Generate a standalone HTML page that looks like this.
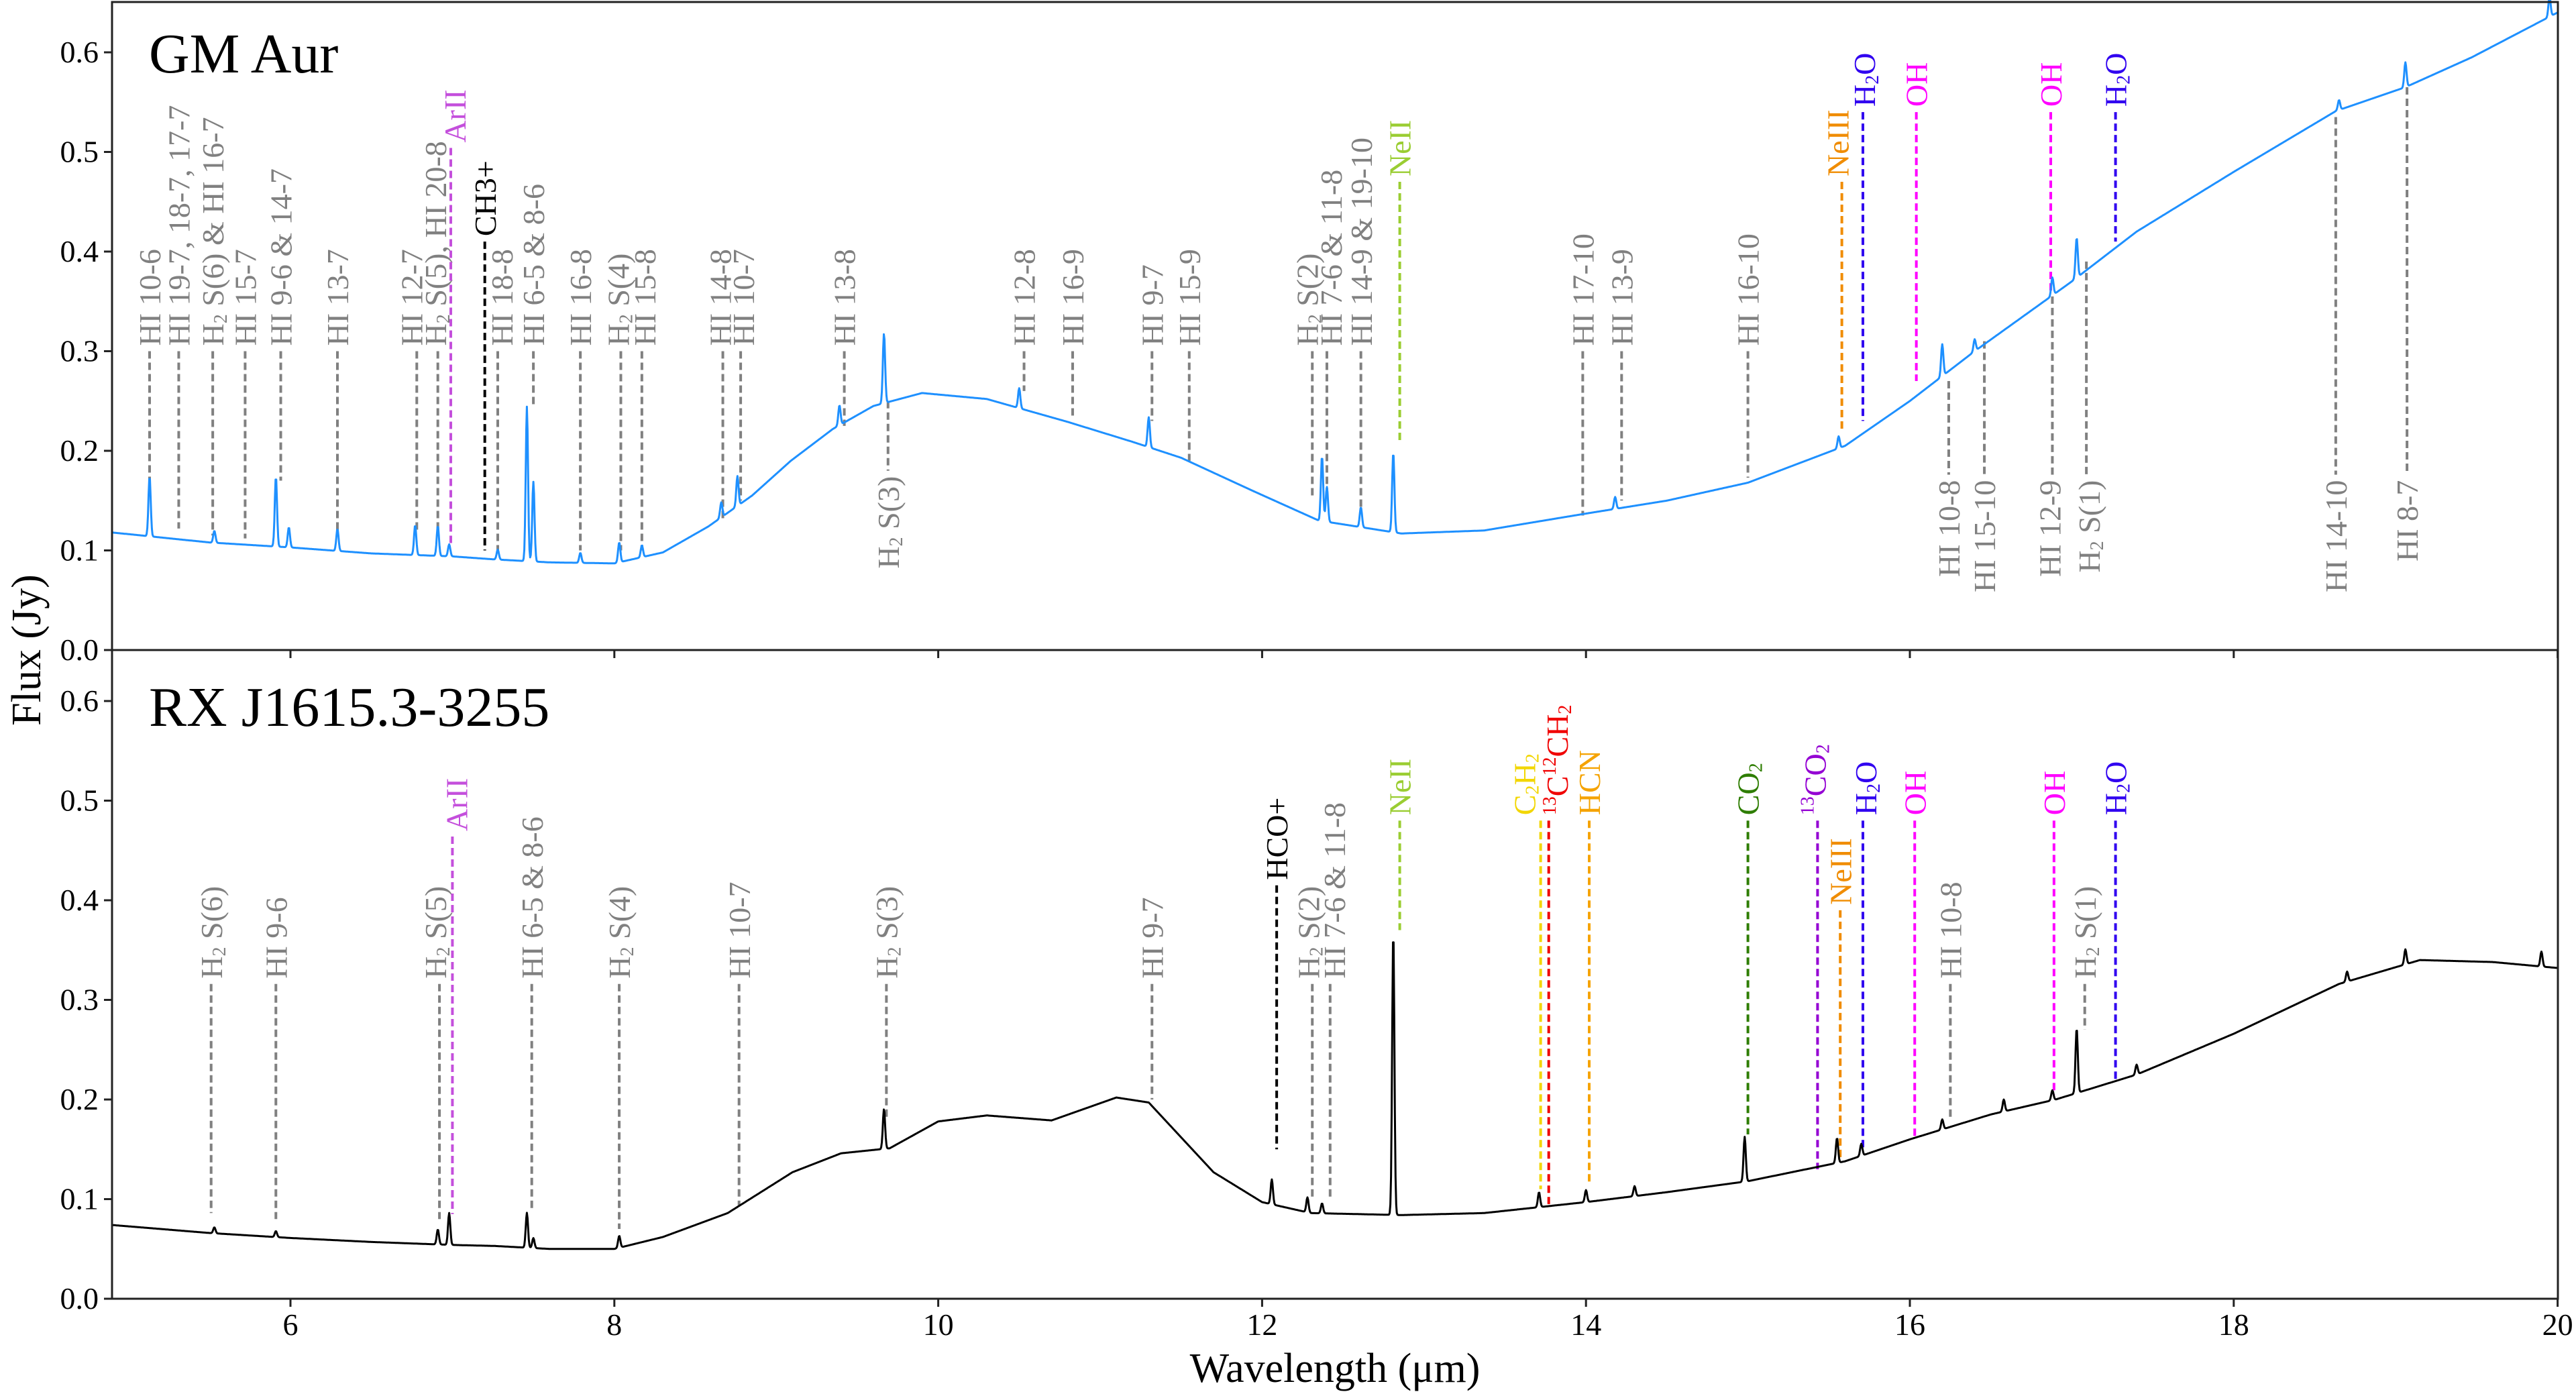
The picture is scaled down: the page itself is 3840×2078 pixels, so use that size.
<!DOCTYPE html>
<html><head><meta charset="utf-8"><style>
html,body{margin:0;padding:0;background:#fff}
svg{display:block}
text{font-family:"Liberation Serif","DejaVu Serif",serif}
</style></head><body>
<svg id="fig" width="3840" height="2078" viewBox="0 0 3840 2078" xmlns="http://www.w3.org/2000/svg">
<rect width="3840" height="2078" fill="#fff"/>
<g id="top"></g>
<g id="bot"></g>
<g id="axes"></g>
</svg>
<script>
// ---- data ----
const topContWl = [4.9,5.5,6.0,6.5,7.0,7.26,7.6,8.0,8.3,8.58,8.85,9.09,9.35,9.6,9.9,10.3,10.8,11.2,11.5,11.94,12.35,12.86,13.37,14.0,14.5,15.0,15.6,16.0,16.4,17.0,17.4,18.0,18.63,19.06,19.47,20.0];
const topContFx = [0.118,0.108,0.103,0.097,0.094,0.091,0.088,0.087,0.098,0.124,0.155,0.19,0.222,0.245,0.258,0.252,0.229,0.209,0.193,0.16,0.13,0.117,0.12,0.137,0.15,0.168,0.205,0.25,0.3,0.37,0.42,0.48,0.541,0.565,0.595,0.64];
const topPeakWl = [5.13,5.53,5.91,5.99,6.29,6.77,6.91,6.98,7.28,7.46,7.50,7.79,8.03,8.17,8.66,8.76,9.39,9.665,10.5,11.3,12.37,12.40,12.61,12.81,14.18,15.56,16.2,16.4,16.88,17.03,18.65,19.06,19.95];
const topPeakFx = [0.06,0.012,0.07,0.02,0.022,0.03,0.03,0.012,0.01,0.155,0.08,0.01,0.02,0.012,0.015,0.03,0.02,0.07,0.02,0.03,0.065,0.035,0.02,0.08,0.012,0.012,0.032,0.012,0.018,0.04,0.01,0.025,0.02];
const botContWl = [4.9,5.5,6.0,6.5,7.0,7.26,7.6,8.0,8.3,8.7,9.1,9.4,9.7,10.0,10.3,10.7,11.1,11.3,11.7,12.0,12.3,12.86,13.37,14.0,14.5,15.0,15.6,16.0,16.5,16.9,17.4,18.0,18.65,19.15,19.6,20.0];
const botContFx = [0.074,0.066,0.061,0.057,0.054,0.053,0.05,0.05,0.062,0.086,0.127,0.146,0.151,0.178,0.184,0.179,0.202,0.197,0.127,0.097,0.086,0.084,0.086,0.097,0.107,0.118,0.138,0.16,0.185,0.2,0.225,0.266,0.316,0.34,0.338,0.332];
const botPeakWl = [5.53,5.91,6.91,6.98,7.46,7.50,8.03,9.665,12.06,12.28,12.37,12.81,13.71,14.0,14.3,14.98,15.55,15.7,16.2,16.58,16.88,17.03,17.4,18.7,19.06,19.9];
const botPeakFx = [0.006,0.006,0.015,0.032,0.035,0.01,0.012,0.04,0.025,0.015,0.01,0.285,0.015,0.012,0.01,0.045,0.025,0.012,0.01,0.012,0.01,0.065,0.01,0.01,0.015,0.015];
const xTicks = [6,8,10,12,14,16,18,20];
const yTicks = [0.0,0.1,0.2,0.3,0.4,0.5,0.6];
const G='#808080';
// annotations: [wl, label, color, yTop, yBottom, dir, labelDx]
const topAnn = [
 [5.13,'HI 10-6',G,0.30,0.17,'up'],[5.31,'HI 19-7, 18-7, 17-7',G,0.30,0.122,'up'],
 [5.52,'H_2 S(6) & HI 16-7',G,0.30,0.115,'up'],[5.72,'HI 15-7',G,0.30,0.112,'up'],
 [5.94,'HI 9-6 & 14-7',G,0.30,0.17,'up'],[6.29,'HI 13-7',G,0.30,0.12,'up'],
 [6.78,'HI 12-7',G,0.30,0.12,'up',-8],[6.91,'H_2 S(5), HI 20-8',G,0.30,0.12,'up',-4],
 [6.99,'ArII','#c44fdc',0.504,0.105,'up',6],[7.20,'CH3+','#000',0.41,0.10,'up'],
 [7.28,'HI 18-8',G,0.30,0.10,'up',6],[7.50,'HI 6-5 & 8-6',G,0.30,0.245,'up'],
 [7.79,'HI 16-8',G,0.30,0.10,'up'],[8.04,'H_2 S(4)',G,0.30,0.10,'up',-4],
 [8.17,'HI 15-8',G,0.30,0.10,'up',4],[8.67,'HI 14-8',G,0.30,0.13,'up',-4],
 [8.78,'HI 10-7',G,0.30,0.15,'up',4],[9.42,'HI 13-8',G,0.30,0.225,'up'],
 [10.53,'HI 12-8',G,0.30,0.26,'up'],[10.83,'HI 16-9',G,0.30,0.235,'up'],
 [11.32,'HI 9-7',G,0.30,0.23,'up'],[11.55,'HI 15-9',G,0.30,0.19,'up'],
 [12.31,'H_2 S(2)',G,0.30,0.155,'up',-8],[12.40,'HI 7-6 & 11-8',G,0.30,0.155,'up',6],
 [12.61,'HI 14-9 & 19-10',G,0.30,0.14,'up'],[12.85,'NeII','#9acd32',0.47,0.21,'up'],
 [13.98,'HI 17-10',G,0.30,0.135,'up'],[14.22,'HI 13-9',G,0.30,0.15,'up'],
 [15.0,'HI 16-10',G,0.30,0.173,'up'],[15.58,'NeIII','#f08c00',0.47,0.22,'up',-6],
 [15.71,'H_2O','#3000f0',0.54,0.23,'up',2],[16.04,'OH','#ff00ff',0.54,0.27,'up'],
 [16.87,'OH','#ff00ff',0.54,0.357,'up'],[17.27,'H_2O','#3000f0',0.54,0.41,'up'],
 [9.69,'H_2 S(3)',G,0.25,0.18,'down'],[16.24,'HI 10-8',G,0.27,0.176,'down'],
 [16.46,'HI 15-10',G,0.31,0.176,'down'],[16.88,'HI 12-9',G,0.355,0.176,'down',-4],
 [17.09,'H_2 S(1)',G,0.39,0.176,'down',4],[18.63,'HI 14-10',G,0.535,0.176,'down'],
 [19.07,'HI 8-7',G,0.565,0.176,'down']
];
const botAnn = [
 [5.51,'H_2 S(6)',G,0.316,0.086,'up'],[5.91,'HI 9-6',G,0.316,0.08,'up'],
 [6.92,'H_2 S(5)',G,0.316,0.08,'up',-6],[7.0,'ArII','#c44fdc',0.464,0.085,'up',6],
 [7.49,'HI 6-5 & 8-6',G,0.316,0.09,'up'],[8.03,'H_2 S(4)',G,0.316,0.07,'up'],
 [8.77,'HI 10-7',G,0.316,0.094,'up'],[9.68,'H_2 S(3)',G,0.316,0.18,'up'],
 [11.32,'HI 9-7',G,0.316,0.2,'up'],[12.09,'HCO+','#000',0.415,0.15,'up'],
 [12.31,'H_2 S(2)',G,0.316,0.1,'up',-6],[12.42,'HI 7-6 & 11-8',G,0.316,0.1,'up',6],
 [12.85,'NeII','#9acd32',0.48,0.37,'up'],[13.72,'C_2H_2','#f2d600',0.48,0.11,'up',-24],
 [13.77,'^13C^12CH_2','#f00000',0.48,0.095,'up',12],[14.02,'HCN','#f5a300',0.48,0.115,'up'],
 [15.0,'CO_2','#2e7d00',0.48,0.165,'up'],[15.43,'^13CO_2','#9400d3',0.48,0.13,'up',-4],
 [15.57,'NeIII','#f08c00',0.39,0.14,'up'],[15.71,'H_2O','#3000f0',0.48,0.15,'up',4],
 [16.03,'OH','#ff00ff',0.48,0.16,'up'],[16.25,'HI 10-8',G,0.316,0.18,'up'],
 [16.89,'OH','#ff00ff',0.48,0.205,'up'],[17.08,'H_2 S(1)',G,0.316,0.27,'up'],
 [17.27,'H_2O','#3000f0',0.48,0.22,'up']
];
// ---- geometry ----
const NS='http://www.w3.org/2000/svg';
const X0=167,X1=3813;
const X=w=>433+(w-6)*241.4;
const Yt=f=>969-f*1485, Yb=f=>1936-f*1485;
function el(tag,attrs,parent){const e=document.createElementNS(NS,tag);for(const k in attrs)e.setAttribute(k,attrs[k]);parent.appendChild(e);return e;}
function interp(wl,xs,ys){if(wl<=xs[0])return ys[0];for(let i=1;i<xs.length;i++){if(wl<=xs[i]){const t=(wl-xs[i-1])/(xs[i]-xs[i-1]);return ys[i-1]+t*(ys[i]-ys[i-1]);}}return ys[ys.length-1];}
function spectrum(cw,cf,pw,pf,Y,color,parent,name){
  let d='';
  for(let w=4.9;w<=20.0001;w+=0.004){
    let f=interp(w,cw,cf);
    for(let i=0;i<pw.length;i++){const z=(w-pw[i])/0.007;f+=pf[i]*Math.exp(-0.5*z*z);}
    d+=(d?'L':'M')+X(w).toFixed(1)+' '+Y(f).toFixed(1);
  }
  const p=el('path',{d:d,fill:'none',stroke:color,'stroke-width':3,'stroke-linejoin':'round'},parent);
  
  
}
function richText(t,str){
  let i=0;
  while(i<str.length){
    const c=str[i];
    if(c==='_'||c==='^'){
      let j=i+1;let s='';
      while(j<str.length&&/[0-9]/.test(str[j])){s+=str[j];j++;}
      const ts=el('tspan',{'font-size':'28','baseline-shift':c==='_'?'-5':'18'},t);ts.textContent=s;
      i=j;
    } else {
      let s='';while(i<str.length&&str[i]!=='_'&&str[i]!=='^'){s+=str[i];i++;}
      const ts=el('tspan',{},t);ts.textContent=s;
    }
  }
}
function annotate(list,Y,parent,prefix){
  list.forEach(a=>{
    const [w,lab,col,top,bot,dir]=a;const dx=a[6]||0;const x=X(w);
    const g=el('g',{},parent);
    
    
    el('line',{x1:x,x2:x,y1:Y(top),y2:Y(bot),stroke:col,'stroke-width':4,'stroke-dasharray':'11 6'},g);
    const fs=46;
    let ty, anchor;
    if(dir==='up'){ty=Y(top)-8;anchor='start';}else{ty=Y(bot)+8;anchor='end';}
    const tx=x+fs*0.35+dx;
    const t=el('text',{x:tx,y:ty,fill:col,'font-size':fs,'text-anchor':anchor,transform:`rotate(-90 ${tx} ${ty})`},g);
    
    
    richText(t,lab);
  });
}
const topG=document.getElementById('top'),botG=document.getElementById('bot'),ax=document.getElementById('axes');
annotate(topAnn,Yt,topG,'top');
annotate(botAnn,Yb,botG,'bottom');
spectrum(topContWl,topContFx,topPeakWl,topPeakFx,Yt,'#1e90ff',topG,'gm-aur-spectrum');
spectrum(botContWl,botContFx,botPeakWl,botPeakFx,Yb,'#000',botG,'rxj1615-spectrum');
[[3,969],[969,1936]].forEach((r,k)=>{
  const f=el('rect',{x:X0,y:r[0],width:X1-X0,height:r[1]-r[0],fill:'none',stroke:'#222','stroke-width':3},ax);
  
  
});
[Yt,Yb].forEach((Y,k)=>{
  yTicks.forEach(v=>{
    const y=Y(v);
    el('line',{x1:X0-12,x2:X0,y1:y,y2:y,stroke:'#222','stroke-width':3},ax);
    const t=el('text',{x:X0-20,y:y+15,'font-size':46,'text-anchor':'end',fill:'#000'},ax);
    
    
    t.textContent=v.toFixed(1);
  });
});
xTicks.forEach(v=>{
  const x=X(v);
  el('line',{x1:x,x2:x,y1:1936,y2:1948,stroke:'#222','stroke-width':3},ax);
  el('line',{x1:x,x2:x,y1:969,y2:981,stroke:'#222','stroke-width':3},ax);
  const t=el('text',{x:x,y:1990,'font-size':46,'text-anchor':'middle',fill:'#000'},ax);
  
  
  t.textContent=v;
});
let t=el('text',{x:222,y:108,'font-size':84,fill:'#000'},ax);


t.textContent='GM Aur';
t=el('text',{x:222,y:1082,'font-size':84,fill:'#000'},ax);


t.textContent='RX J1615.3-3255';
t=el('text',{x:1990,y:2060,'font-size':62,'text-anchor':'middle',fill:'#000'},ax);


t.textContent='Wavelength (μm)';
t=el('text',{x:60,y:969,'font-size':62,'text-anchor':'middle',fill:'#000',transform:'rotate(-90 60 969)'},ax);


t.textContent='Flux (Jy)';
</script>
</body></html>
